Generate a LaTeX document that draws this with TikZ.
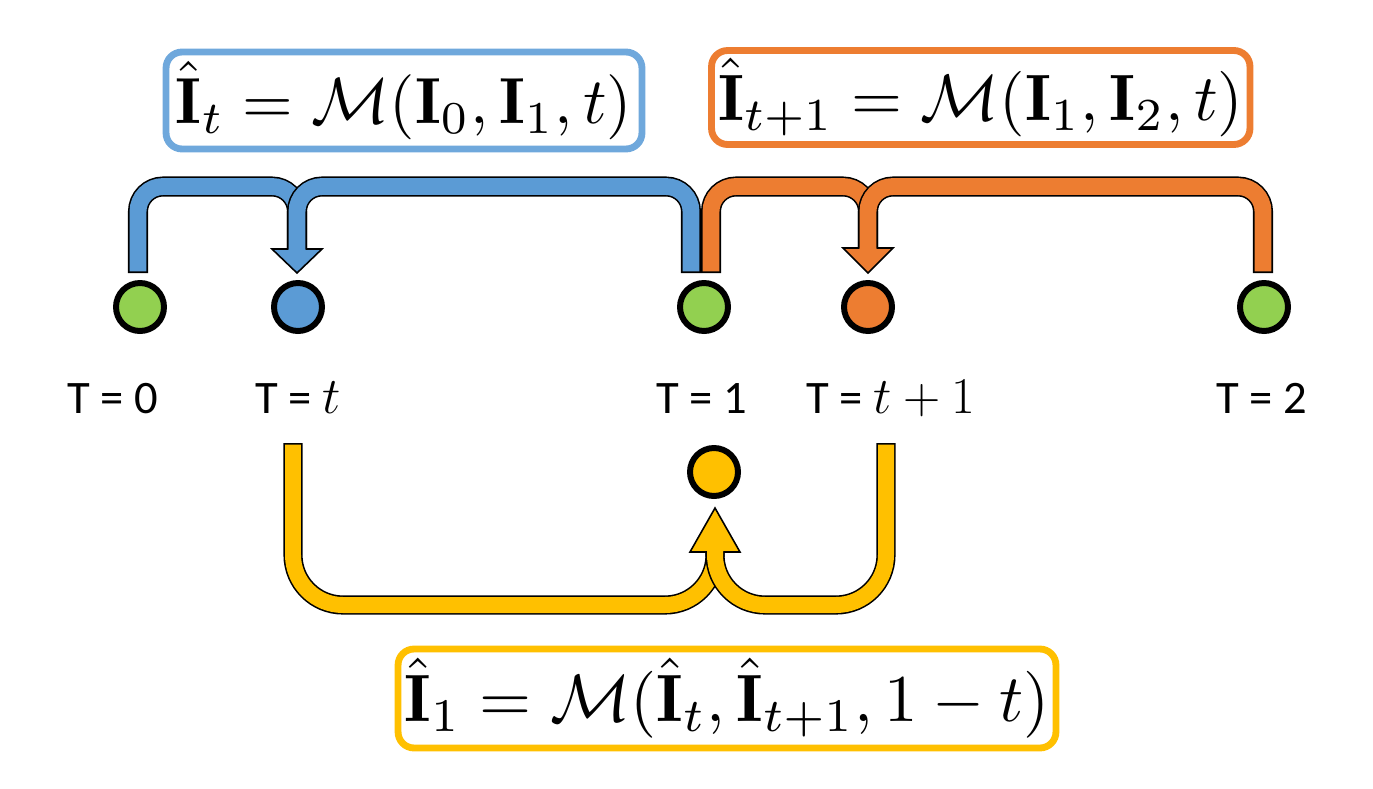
\documentclass[tikz,border=0pt]{standalone}
\usepackage{fontspec}
\setsansfont{Carlito}
\usepackage{amsmath}
\usetikzlibrary{calc}
\definecolor{cgreen}{HTML}{92D050}
\definecolor{cblue}{HTML}{5B9BD5}
\definecolor{cbluebox}{HTML}{6FA8DC}
\definecolor{corange}{HTML}{ED7D31}
\definecolor{cyellow}{HTML}{FFC000}
\newcommand{\lblmath}[1]{\scalebox{1.18}{$#1$}}
\begin{document}
\begin{tikzpicture}[x=0.02cm,y=-0.02cm,
  dot/.style={circle, draw=black, line width=3.4pt, minimum size=0.96cm, inner sep=0pt},
  eqbox/.style={rounded corners=0.32cm, line width=3.9pt, fill=white, inner sep=0pt},
  lbl/.style={font=\sffamily\fontsize{26.5}{30}\selectfont, anchor=base},
  shaftout/.style={draw=black, line width=11.4pt, rounded corners=#1},
  shaftin/.style={line width=9.6pt, rounded corners=#1, shorten <=0.9pt, shorten >=-1.2pt},
  yshaftout/.style={draw=black, line width=10.9pt, rounded corners=1cm},
  yshaftin/.style={line width=9.1pt, rounded corners=1cm, shorten <=0.9pt, shorten >=-1.2pt},
  headst/.style={draw=black, line width=0.9pt, line join=miter}
]
\useasboundingbox (0,0) rectangle (1373,788);

% equation boxes
\node[eqbox, draw=cbluebox, minimum width=9.52cm, minimum height=1.94cm] (eb) at (404,100.5)
  {\resizebox{9.12cm}{!}{$\hat{\mathbf{I}}_t = \mathcal{M}(\mathbf{I}_0, \mathbf{I}_1, t)$}};
\node[eqbox, draw=corange, minimum width=10.77cm, minimum height=1.88cm] (eo) at (980.75,97.5)
  {\resizebox{10.5cm}{!}{$\hat{\mathbf{I}}_{t+1} = \mathcal{M}(\mathbf{I}_1, \mathbf{I}_2, t)$}};
\node[eqbox, draw=cyellow, minimum width=13.16cm, minimum height=1.98cm] (ey) at (727,698.5)
  {\resizebox{12.9cm}{!}{$\hat{\mathbf{I}}_1 = \mathcal{M}(\hat{\mathbf{I}}_t, \hat{\mathbf{I}}_{t+1}, 1 - t)$}};

% time points
\node[dot, fill=cgreen]  (n0)  at (140,307) {};
\node[dot, fill=cblue]   (nt)  at (298,307) {};
\node[dot, fill=cgreen]  (n1)  at (704,307) {};
\node[dot, fill=corange] (nt1) at (868,307) {};
\node[dot, fill=cgreen]  (n2)  at (1264,307) {};
\node[dot, fill=cyellow] (ny)  at (714,472) {};

% labels
\node[lbl] (l0)  at (113,413) {T = 0};
\node[lbl] (lt)  at (298,413) {T = \lblmath{t}};
\node[lbl] (l1)  at (702,413) {T = 1};
\node[lbl] (lt1) at (891,413) {T = \lblmath{t+1}};
\node[lbl] (l2)  at (1262,413) {T = 2};

% blue arrow
\coordinate (bs1)   at ($(n0)+(-2,-34)$);
\coordinate (bs2)   at ($(n1)+(-13,-34)$);
\coordinate (btip)  at ($(nt)+(-1,-34)$);
\coordinate (bbase) at ($(btip)+(0,-24)$);
\coordinate (bjoin) at ($(btip)+(0,-86.5)$);
\path[headst, fill=cblue] ($(bbase)+(-25,0)$) -- ($(bbase)+(25,0)$) -- (btip) -- cycle;
\draw[shaftout=0.5cm] (bs1) |- (bjoin) -- (bbase);
\draw[shaftin=0.5cm, cblue] (bs1) |- (bjoin) -- (bbase);
\draw[shaftout=0.5cm] (bs2) |- (bjoin) -- (bbase);
\draw[shaftin=0.5cm, cblue] (bs2) |- (bjoin) -- (bbase);

% orange arrow
\coordinate (os1)   at ($(n1)+(7,-34)$);
\coordinate (os2)   at ($(n2)+(-1,-34)$);
\coordinate (otip)  at ($(nt1)+(0,-34)$);
\coordinate (obase) at ($(otip)+(0,-25)$);
\coordinate (ojoin) at ($(otip)+(0,-86.5)$);
\path[headst, fill=corange] ($(obase)+(-25,0)$) -- ($(obase)+(25,0)$) -- (otip) -- cycle;
\draw[shaftout=0.5cm] (os1) |- (ojoin) -- (obase);
\draw[shaftin=0.5cm, corange] (os1) |- (ojoin) -- (obase);
\draw[shaftout=0.5cm] (os2) |- (ojoin) -- (obase);
\draw[shaftin=0.5cm, corange] (os2) |- (ojoin) -- (obase);

% yellow arrow
\coordinate (ys1)   at ($(nt)+(-5,136)$);
\coordinate (ys2)   at ($(nt1)+(18,136)$);
\coordinate (ytip)  at ($(ny)+(1,36)$);
\coordinate (ybase) at ($(ytip)+(0,44)$);
\coordinate (yjoin) at ($(ytip)+(0,97)$);
\path[headst, fill=cyellow] ($(ybase)+(-25,0)$) -- ($(ybase)+(25,0)$) -- (ytip) -- cycle;
\draw[yshaftout] (ys1) |- (yjoin) -- (ybase);
\draw[yshaftin, cyellow] (ys1) |- (yjoin) -- (ybase);
\draw[yshaftout] (ys2) |- (yjoin) -- (ybase);
\draw[yshaftin, cyellow] (ys2) |- (yjoin) -- (ybase);
\end{tikzpicture}
\end{document}
